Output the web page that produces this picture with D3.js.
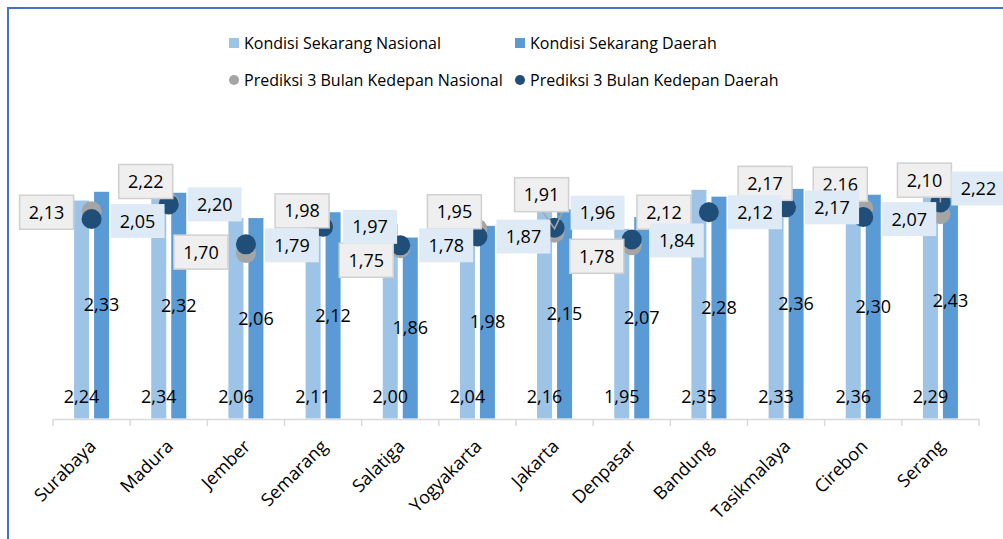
<!DOCTYPE html>
<html>
<head>
<meta charset="utf-8">
<script src="https://cdn.jsdelivr.net/npm/d3@7"></script>
<style>
  body { margin: 0; background: #fff; }
  svg text { font-family: "Open Sans", "Noto Sans", sans-serif; fill: #000; }
</style>
</head>
<body>
<svg id="chart" width="1003" height="539"></svg>
<script>
// data
var cities = ["Surabaya", "Madura", "Jember", "Semarang", "Salatiga", "Yogyakarta",
              "Jakarta", "Denpasar", "Bandung", "Tasikmalaya", "Cirebon", "Serang"];
var kondisiNasional = [2.24, 2.34, 2.06, 2.11, 2.00, 2.04, 2.16, 1.95, 2.35, 2.33, 2.36, 2.29];
var kondisiDaerah   = [2.33, 2.32, 2.06, 2.12, 1.86, 1.98, 2.15, 2.07, 2.28, 2.36, 2.30, 2.43];
var prediksiNasional = [2.13, 2.22, 1.70, 1.98, 1.75, 1.95, 1.91, 1.78, 2.12, 2.17, 2.16, 2.10];
var prediksiDaerah   = [2.05, 2.20, 1.79, 1.97, 1.78, 1.87, 1.96, 1.84, 2.12, 2.17, 2.07, 2.22];

// where the callout boxes were dragged to (offset from the dot)
var grayShift = [[-45, 1], [-23, -21], [-45, -1], [-21, -15], [-34, 12], [-23, -17],
                 [-13, -38], [-35, 11], [-45, 0], [-21, -24], [-23, -24], [-16, -34]];
var blueShift = [[46, 2], [46, 0], [46, 1], [47, 0], [46, 0], [46, 0],
                 [43, -15], [45, 1], [46, 0], [46, 0], [46, 2], [38, -14]];

var cLight = "#9dc3e6", cDark = "#5b9bd5", cGray = "#a5a5a5", cNavy = "#1f4e79";

var svg = d3.select("#chart");
var fmt = function(v) { return v.toFixed(2).replace(".", ","); };

// frame
svg.append("path").attr("d", "M8,539V8H1003")
  .attr("fill", "none").attr("stroke", "#4472c4").attr("stroke-width", 2);

var x = d3.scaleBand().domain(cities).range([53, 979]);
var sub = d3.scaleBand().domain(["n", "d"]).range([-17.5, 17.5]).paddingInner(0.25);
var y = d3.scaleLinear().domain([0, 2.5]).range([418.5, 175.25]);
var cx = function(i) { return x(cities[i]) + x.bandwidth() / 2; };

// bars
var g = svg.append("g");
g.selectAll(".bn").data(kondisiNasional).enter().append("rect")
  .attr("x", function(d, i) { return cx(i) + sub("n"); })
  .attr("y", function(d) { return y(d); })
  .attr("width", sub.bandwidth())
  .attr("height", function(d) { return y(0) - y(d); })
  .attr("fill", cLight);
g.selectAll(".bd").data(kondisiDaerah).enter().append("rect")
  .attr("x", function(d, i) { return cx(i) + sub("d"); })
  .attr("y", function(d) { return y(d); })
  .attr("width", sub.bandwidth())
  .attr("height", function(d) { return y(0) - y(d); })
  .attr("fill", cDark);

// axis
var axis = svg.append("g").attr("transform", "translate(0,419)")
  .call(d3.axisBottom(x).tickSize(0).tickFormat(""));
axis.select(".domain").attr("stroke", "#d9d9d9").attr("stroke-width", 1.5);
axis.selectAll(".sep").data(d3.range(cities.length + 1)).enter().append("line")
  .attr("x1", function(i) { return 53 + i * x.step(); })
  .attr("x2", function(i) { return 53 + i * x.step(); })
  .attr("y1", 0).attr("y2", 7)
  .attr("stroke", "#d9d9d9").attr("stroke-width", 1.5);

svg.selectAll(".cat").data(cities).enter().append("text")
  .attr("transform", function(d, i) { return "translate(" + (cx(i) + 1) + ",443) rotate(-45)"; })
  .attr("text-anchor", "end")
  .attr("dy", "0.35em")
  .style("font-size", "18px")
  .text(function(d) { return d; });

// bar labels
svg.selectAll(".ln").data(kondisiNasional).enter().append("text")
  .attr("x", function(d, i) { return cx(i) + sub("n") + sub.bandwidth() / 2; })
  .attr("y", 403)
  .attr("text-anchor", "middle")
  .style("font-size", "18px")
  .text(fmt);
svg.selectAll(".ld").data(kondisiDaerah).enter().append("text")
  .attr("x", function(d, i) { return cx(i) + sub("d") + sub.bandwidth() / 2; })
  .attr("y", function(d) { return (y(0) + y(d)) / 2; })
  .attr("dy", "0.35em")
  .attr("text-anchor", "middle")
  .style("font-size", "18px")
  .text(fmt);

// dots
svg.selectAll(".pn").data(prediksiNasional).enter().append("circle")
  .attr("cx", function(d, i) { return cx(i); })
  .attr("cy", function(d) { return y(d); })
  .attr("r", 10).attr("fill", cGray);
svg.selectAll(".pd").data(prediksiDaerah).enter().append("circle")
  .attr("cx", function(d, i) { return cx(i); })
  .attr("cy", function(d) { return y(d); })
  .attr("r", 10).attr("fill", cNavy);

// leader lines
var lead = svg.append("g").attr("fill", "none").attr("stroke", cGray).attr("stroke-width", 1.5);
lead.append("path").attr("d", "M" + (cx(6) - 12) + "," + (y(prediksiNasional[6]) - 21) +
  "L" + cx(6) + "," + (y(prediksiNasional[6]) - 4) +
  "L" + (cx(6) + 8) + "," + (y(prediksiNasional[6]) - 21));
lead.append("path").attr("d", "M" + (cx(11) + 12) + "," + (y(prediksiDaerah[11]) - 14) +
  "H" + cx(11) + "V" + y(prediksiDaerah[11]));

// callout labels
function callouts(vals, shift, fill, stroke) {
  var lg = svg.append("g");
  var item = lg.selectAll("g").data(vals).enter().append("g")
    .attr("transform", function(d, i) {
      return "translate(" + (cx(i) + shift[i][0]) + "," + (y(d) + shift[i][1]) + ")";
    });
  item.append("rect")
    .attr("x", -27).attr("y", -17).attr("width", 54).attr("height", 34)
    .attr("fill", fill)
    .attr("stroke", stroke || "none").attr("stroke-width", 1.5);
  item.append("text")
    .attr("text-anchor", "middle").attr("dy", "0.36em")
    .style("font-size", "18px")
    .text(fmt);
}
callouts(prediksiNasional, grayShift, "#efefef", "#d0d0d0");
callouts(prediksiDaerah, blueShift, "#deebf7");

// legend
var legend = [
  { name: "Kondisi Sekarang Nasional", color: cLight, shape: "rect", x: 229, y: 43 },
  { name: "Kondisi Sekarang Daerah", color: cDark, shape: "rect", x: 515, y: 43 },
  { name: "Prediksi 3 Bulan Kedepan Nasional", color: cGray, shape: "circle", x: 229, y: 80 },
  { name: "Prediksi 3 Bulan Kedepan Daerah", color: cNavy, shape: "circle", x: 515, y: 80 }
];
var li = svg.selectAll(".leg").data(legend).enter().append("g")
  .attr("transform", function(d) { return "translate(" + d.x + "," + d.y + ")"; });
li.each(function(d) {
  var s = d3.select(this);
  if (d.shape == "rect")
    s.append("rect").attr("x", 0).attr("y", -5).attr("width", 10).attr("height", 10).attr("fill", d.color);
  else
    s.append("circle").attr("cx", 5).attr("cy", 0).attr("r", 5).attr("fill", d.color);
});
li.append("text").attr("x", 15).attr("dy", "0.35em")
  .style("font-size", "16px")
  .text(function(d) { return d.name; });
</script>
</body>
</html>
